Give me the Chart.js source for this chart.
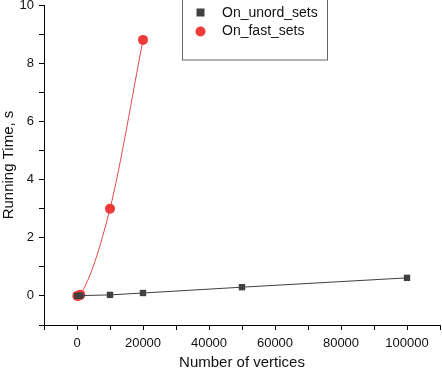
<!DOCTYPE html>
<html>
<head>
<meta charset="utf-8">
<script src="https://cdn.jsdelivr.net/npm/chart.js@4"></script>
<style>
  html, body { margin: 0; padding: 0; background: #fff; }
  #wrap { width: 442px; height: 372px; }
</style>
</head>
<body>
<div id="wrap"><canvas id="chart" width="442" height="372"></canvas></div>
<script>
// datos
const unordX = [100, 1000, 10000, 20000, 50000, 100000];
const unordY = [0.0, 0.01, 0.035, 0.1, 0.3, 0.62];
const fastX = [100, 500, 1000, 10000, 20000];
const fastY = [0.0, 0.01, 0.04, 3.0, 8.8];
const seriesNames = ['On_unord_sets', 'On_fast_sets'];
const xLabelTicks = [0, 20000, 40000, 60000, 80000, 100000];
const yLabelTicks = [0, 2, 4, 6, 8, 10];

const FONT = 'Liberation Sans, Arial, sans-serif';
const toPoints = (xs, ys) => xs.map((x, i) => ({ x: x, y: ys[i] }));

// sin relleno automático de las escalas
const noPad = s => { s.paddingLeft = 0; s.paddingRight = 0; s.paddingTop = 0; s.paddingBottom = 0; };

// leyenda con recuadro, como en el original
const boxLegend = {
    id: 'boxLegend',
    afterDraw(chart) {
        const c = chart.ctx;
        c.save();
        c.strokeStyle = '#666';
        c.lineWidth = 1;
        c.strokeRect(182.5, -1, 145, 61);
        c.font = '14px ' + FONT;
        c.textBaseline = 'middle';
        // cuadrado
        c.fillStyle = '#404040';
        c.fillRect(196.5, 8.5, 8, 8);
        // círculo
        c.fillStyle = '#f03a3a';
        c.beginPath();
        c.arc(200.5, 31.5, 5, 0, Math.PI * 2);
        c.fill();
        c.fillStyle = '#111';
        c.fillText(seriesNames[0], 222, 13);
        c.fillText(seriesNames[1], 222, 31);
        c.restore();
    }
};

const ctx = document.getElementById('chart').getContext('2d');
new Chart(ctx, {
    type: 'scatter',
    data: {
        datasets: [
            {
                label: seriesNames[0],
                data: toPoints(unordX, unordY),
                showLine: true,
                borderColor: '#404040',
                borderWidth: 1,
                pointStyle: 'rect',
                pointRadius: 4.5,
                pointBackgroundColor: '#404040',
                pointBorderWidth: 0
            },
            {
                label: seriesNames[1],
                data: toPoints(fastX, fastY),
                showLine: true,
                cubicInterpolationMode: 'monotone',
                borderColor: '#e04a4a',
                borderWidth: 1,
                pointStyle: 'circle',
                pointRadius: 5,
                pointBackgroundColor: '#f03a3a',
                pointBorderWidth: 0
            }
        ]
    },
    options: {
        responsive: false,
        animation: false,
        layout: { autoPadding: false, padding: { top: 5, right: 2, left: 0, bottom: 0 } },
        plugins: { legend: { display: false }, tooltip: { enabled: false } },
        scales: {
            x: {
                type: 'linear',
                min: -10000,
                max: 110000,
                afterFit: s => { s.height = 47; noPad(s); },
                border: { color: '#000', width: 1 },
                grid: { drawOnChartArea: false, drawTicks: true, tickLength: 5, tickColor: '#000' },
                ticks: {
                    stepSize: 10000,
                    autoSkip: false,
                    maxRotation: 0,
                    padding: 6,
                    color: '#111',
                    font: { size: 13, family: FONT },
                    callback: v => xLabelTicks.includes(v) ? String(v) : ''
                },
                title: {
                    display: true,
                    text: 'Number of vertices',
                    color: '#111',
                    font: { size: 15, family: FONT },
                    padding: { top: 2, bottom: 0 }
                }
            },
            y: {
                min: -1,
                max: 10,
                afterFit: s => { s.width = 44; noPad(s); },
                border: { color: '#000', width: 1 },
                grid: { drawOnChartArea: false, drawTicks: true, tickLength: 5, tickColor: '#000' },
                ticks: {
                    stepSize: 1,
                    autoSkip: false,
                    padding: 5,
                    color: '#111',
                    font: { size: 13, family: FONT },
                    callback: v => yLabelTicks.includes(v) ? String(v) : ''
                },
                title: {
                    display: true,
                    text: 'Running Time, s',
                    color: '#111',
                    font: { size: 15, family: FONT },
                    padding: { top: 0, bottom: 2 }
                }
            }
        }
    },
    plugins: [boxLegend]
});
</script>
</body>
</html>
